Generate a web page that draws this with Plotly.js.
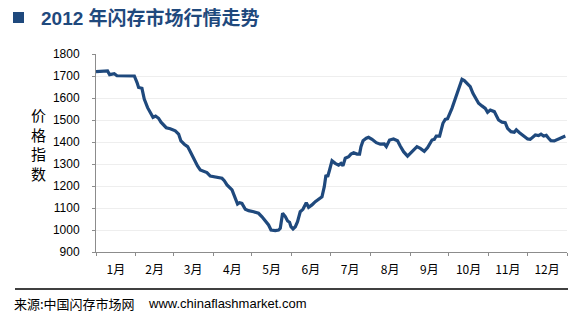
<!DOCTYPE html>
<html>
<head>
<meta charset="utf-8">
<script src="https://cdn.plot.ly/plotly-3.0.1.min.js"></script>
<style>html,body{margin:0;padding:0;background:#fff;}#chart{width:587px;height:316px;}</style>
</head>
<body>
<div id="chart"></div>
<script>
// Days since 2012-01-01 for each reading
var dayOffsets = [0,9,10.6,14.2,16.3,29.8,31.9,33.1,35.7,37.5,40.1,43.0,44.3,46.3,48.6,50.5,52.5,54.6,57.7,61.6,
  64.2,66.0,68.6,71.2,73.3,76.4,78.9,81.0,82.4,86.2,88.8,92.7,97.9,99.7,101.8,105.7,108.2,110.0,111.6,113.4,
  116.0,118.6,122.5,126.3,129.0,131.5,134.1,136.0,139.3,141.9,143.2,145.0,147.1,148.9,150.4,151.5,153.1,154.9,156.6,158.7,
  160.8,163.4,165.2,167.8,170.4,175.6,177.4,178.7,180.0,181.5,183.4,185.9,188.5,190.4,191.9,193.7,196.3,198.1,200.2,202.8,
  204.8,205.9,207.5,210.0,211.8,214.5,217.8,220.9,224.0,225.6,226.6,228.1,231.2,234.3,236.4,239.0,242.1,244.2,246.8,249.4,
  252.0,255.1,257.7,259.7,261.1,262.9,264.4,267.0,269.6,271.4,273.2,276.6,280.5,282.5,284.4,286.2,288.7,290.8,292.9,295.5,
  297.3,299.9,302.5,304.3,306.4,309.5,311.0,312.8,315.5,318.0,319.8,322.5,325.0,326.6,329.1,332.2,335.4,337.4,339.6,341.4,
  343.9,345.8,347.8,349.9,351.7,353.5,356.1,358.7,360.8,362.9,364.7];
var priceIndex = [1720,1723,1706,1710,1701,1700,1670,1648,1644,1595,1556,1523,1512,1518,1508,1490,1480,1465,1460,1451,
  1436,1405,1390,1379,1356,1318,1291,1273,1270,1261,1245,1240,1235,1224,1205,1182,1144,1118,1124,1121,
  1094,1088,1083,1076,1060,1041,1023,1000,997,1000,1008,1076,1061,1041,1035,1015,1005,1015,1038,1083,
  1094,1124,1103,1114,1129,1151,1197,1250,1242,1273,1315,1303,1295,1303,1292,1326,1333,1345,1351,1345,
  1345,1379,1406,1417,1421,1412,1397,1390,1391,1379,1394,1409,1414,1406,1382,1356,1336,1349,1364,1379,
  1371,1358,1375,1394,1409,1412,1427,1427,1485,1503,1506,1553,1614,1652,1685,1679,1664,1652,1621,1598,
  1576,1564,1553,1535,1545,1538,1523,1500,1490,1488,1462,1447,1444,1455,1442,1427,1414,1412,1421,1432,
  1429,1436,1427,1430,1417,1406,1405,1412,1417,1420,1427];
var yTicks = [900,1000,1100,1200,1300,1400,1500,1600,1700,1800];
var titleText = '2012 年闪存市场行情走势';
var yTitleChars = ['价','格','指','数'];
var sourceText = '来源:中国闪存市场网';
var siteText = 'www.chinaflashmarket.com';

var base = Date.UTC(2012,0,1);
var dates = dayOffsets.map(function(d){
  return new Date(base + d*86400000).toISOString().slice(0,19).replace('T',' ');
});

var blue = '#1f497d';
var fontFam = 'Liberation Sans, Arial, Noto Sans CJK SC, sans-serif';

var trace = {
  x: dates, y: priceIndex, type: 'scatter', mode: 'lines',
  line: {color: blue, width: 3.2}, hoverinfo: 'skip'
};

// plot area: x 96..567, y 54..252
var L = 96, R = 567, T = 54, B = 252, W = 587, H = 316;
function px(x){ return (x - L)/(R - L); }
function py(y){ return (B - y)/(B - T); }

var layout = {
  width: W, height: H,
  margin: {l: L, r: W - R, t: T, b: H - B, pad: 0},
  paper_bgcolor: '#fff', plot_bgcolor: '#fff',
  showlegend: false,
  font: {family: fontFam, size: 12, color: '#000'},
  xaxis: {
    type: 'date', range: ['2012-01-01', '2013-01-01'],
    dtick: 'M1', tick0: '2012-01-01', tickformat: '%-m月', ticklabelmode: 'period',
    showgrid: false, zeroline: false,
    showline: true, linecolor: '#8c8c8c', linewidth: 1,
    ticks: 'outside', ticklen: 3, tickcolor: '#8c8c8c',
    tickfont: {family: 'Noto Sans CJK SC, sans-serif', size: 12, color: '#000'},
    ticklabelstandoff: 4, fixedrange: true
  },
  yaxis: {
    range: [900, 1800], tickvals: yTicks, ticktext: yTicks.map(String),
    showgrid: true, gridcolor: '#eeeeee', gridwidth: 1, zeroline: false,
    showline: true, linecolor: '#8c8c8c', linewidth: 1,
    ticks: 'outside', ticklen: 3, tickcolor: '#8c8c8c',
    tickfont: {family: fontFam, size: 12, color: '#000'},
    ticklabelstandoff: 10, fixedrange: true
  },
  shapes: [
    {type: 'rect', xref: 'paper', yref: 'paper', x0: px(13), x1: px(24), y0: py(23), y1: py(12),
     fillcolor: blue, line: {width: 0}},
    {type: 'line', xref: 'paper', yref: 'paper', x0: px(15), x1: px(568), y0: py(289), y1: py(289),
     line: {color: '#000', width: 1.5}}
  ],
  annotations: [
    {text: '<b>' + titleText + '</b>', xref: 'paper', yref: 'paper', x: px(39), y: py(17.5),
     xanchor: 'left', yanchor: 'middle', showarrow: false,
     font: {family: 'Liberation Sans, Arial, Noto Sans CJK SC, sans-serif', size: 19, color: blue}},
    {text: yTitleChars.join('<br>'), xref: 'paper', yref: 'paper', x: px(38.5), y: py(144),
     xanchor: 'center', yanchor: 'middle', showarrow: false, align: 'center',
     font: {family: 'Noto Sans CJK SC, sans-serif', size: 15, color: '#000'}},
    {text: sourceText, xref: 'paper', yref: 'paper', x: px(12), y: py(303),
     xanchor: 'left', yanchor: 'middle', showarrow: false,
     font: {family: 'Noto Sans CJK SC, sans-serif', size: 13, color: '#000'}},
    {text: siteText, xref: 'paper', yref: 'paper', x: px(146), y: py(303),
     xanchor: 'left', yanchor: 'middle', showarrow: false,
     font: {family: 'Liberation Sans, Arial, sans-serif', size: 13, color: '#000'}}
  ]
};

Plotly.newPlot('chart', [trace], layout, {displayModeBar: false, staticPlot: true});
</script>
</body>
</html>
